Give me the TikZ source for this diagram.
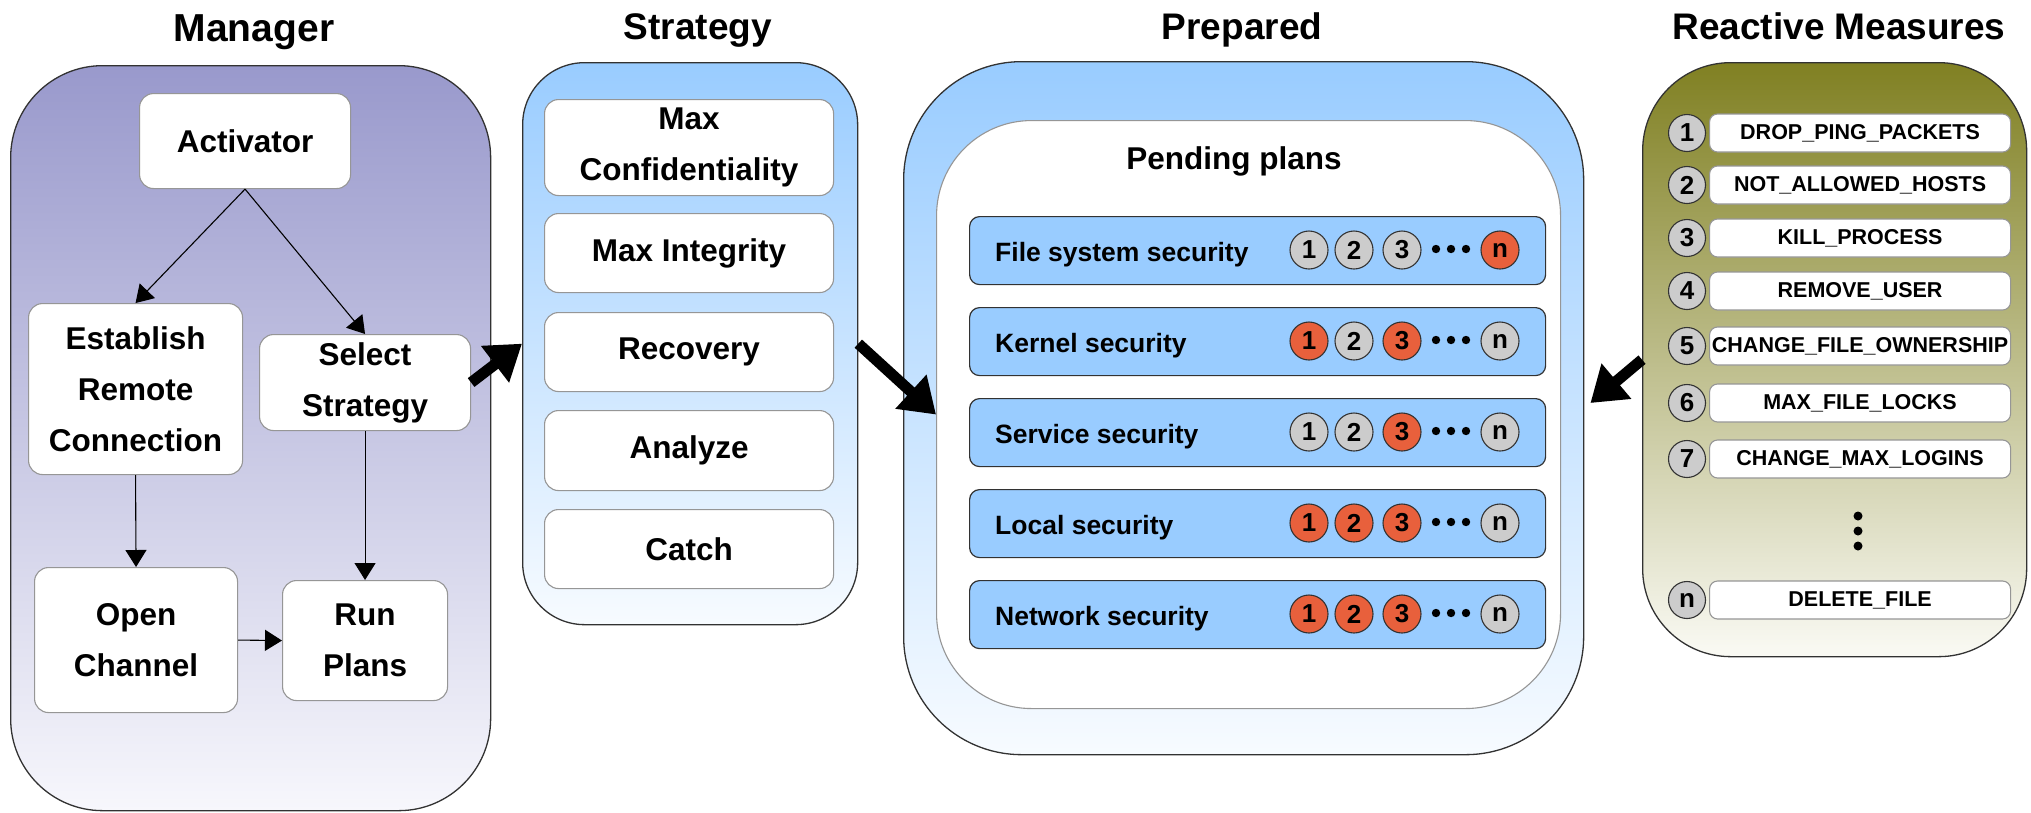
\documentclass[tikz,border=0pt]{standalone}
\usepackage{fontspec}
\setmainfont{Liberation Sans}
\usetikzlibrary{arrows.meta,calc}

\definecolor{lav}{RGB}{153,153,204}
\definecolor{lavlight}{RGB}{247,247,252}
\definecolor{sky}{RGB}{153,204,255}
\definecolor{skylight}{RGB}{247,251,255}
\definecolor{olive}{RGB}{128,128,34}
\definecolor{olivelight}{RGB}{250,250,244}
\definecolor{flag}{RGB}{232,96,60}
\definecolor{idle}{RGB}{204,204,204}
\definecolor{edge}{RGB}{50,50,50}
\definecolor{soft}{RGB}{150,150,150}

\tikzset{
  title/.style={anchor=base, font=\fontsize{37}{44}\selectfont\bfseries},
  panel/.style={draw=edge, line width=1.3pt, anchor=north west, inner sep=0pt},
  stepbox/.style={draw=soft, line width=1.1pt, fill=white, rounded corners=14pt,
    anchor=north west, inner sep=0pt, align=center,
    font=\fontsize{31.5}{51}\selectfont\bfseries},
  flow/.style={-{Triangle[length=17pt,width=21pt]}, line width=1.1pt, black},
  bigflow/.style={-{Triangle[length=34pt,width=44pt]}, line width=11pt, black},
  planrow/.style={draw=edge, line width=1.2pt, fill=sky, rounded corners=10pt,
    anchor=north west, inner sep=0pt, minimum width=576pt, minimum height=68pt},
  rowlabel/.style={anchor=base west, inner sep=0pt, font=\fontsize{26.5}{30}\selectfont\bfseries},
  token/.style={circle, draw=edge, line width=1.1pt, minimum size=38pt, inner sep=0pt,
    font=\fontsize{26}{26}\selectfont\bfseries},
  measure/.style={draw=soft, line width=1.1pt, fill=white, rounded corners=8pt,
    anchor=west, inner sep=0pt, minimum width=301pt, minimum height=38pt,
    font=\fontsize{21.5}{24}\selectfont\bfseries},
}

\begin{document}
\begin{tikzpicture}[x=1pt,y=-1pt]
\useasboundingbox (0,0) rectangle (2031,812);

% column headings
\node[title, font=\fontsize{39}{44}\selectfont\bfseries] (tman) at (254,41) {Manager};
\node[title] (tstr) at (698,39) {Strategy};
\node[title] (tpre) at (1242,39) {Prepared};
\node[title] (trea) at (1839,39) {Reactive Measures};

% ---------------- Manager ----------------
\node[panel, minimum width=480pt, minimum height=745pt, rounded corners=92pt,
      top color=lav, bottom color=lavlight] (man) at (10,65) {};

\node[stepbox, minimum width=211pt, minimum height=95pt]  (act) at (139,93)  {Activator};
\node[stepbox, minimum width=214pt, minimum height=171pt] (est) at (28,303)  {Establish\\Remote\\Connection};
\node[stepbox, minimum width=211pt, minimum height=96pt]  (sel) at (259,334) {Select\\Strategy};
\node[stepbox, minimum width=203pt, minimum height=145pt] (opn) at (34,567)  {Open\\Channel};
\node[stepbox, minimum width=165pt, minimum height=120pt] (run) at (282,580) {Run\\Plans};

\draw[flow] (act.south) -- (est.north);
\draw[flow] (act.south) -- (sel.north);
\draw[flow] (est.south) -- (opn.north);
\draw[flow] (sel.south) -- (run.north);
\draw[flow] (opn.east) -- (run.west);

% ---------------- Strategy ----------------
\node[panel, minimum width=335pt, minimum height=562pt, rounded corners=62pt,
      top color=sky, bottom color=skylight] (strat) at (522,62) {};

\node[stepbox, minimum width=289pt, minimum height=96pt] (s1) at (544,99)  {Max\\Confidentiality};
\node[stepbox, minimum width=289pt, minimum height=79pt] (s2) at (544,213) {Max Integrity};
\node[stepbox, minimum width=289pt, minimum height=79pt] (s3) at (544,312) {Recovery};
\node[stepbox, minimum width=289pt, minimum height=80pt] (s4) at (544,410) {Analyze};
\node[stepbox, minimum width=289pt, minimum height=79pt] (s5) at (544,509) {Catch};

% ---------------- Prepared ----------------
\node[panel, minimum width=680pt, minimum height=693pt, rounded corners=118pt,
      top color=sky, bottom color=skylight] (prep) at (903,61) {};
\node[panel, draw=soft, line width=1.1pt, fill=white, minimum width=624pt,
      minimum height=588pt, rounded corners=95pt] (pend) at (936,120) {};
\node[anchor=base, font=\fontsize{31.5}{34}\selectfont\bfseries] (ptitle) at (1234,169) {Pending plans};

\foreach \k/\top/\lab/\ca/\cb/\cc/\cn in {
    1/216/File system security/idle/idle/idle/flag,
    2/307/Kernel security/flag/idle/flag/idle,
    3/398/Service security/idle/idle/flag/idle,
    4/489/Local security/flag/flag/flag/idle,
    5/580/Network security/flag/flag/flag/idle}{
  \node[planrow] (row\k) at (969,\top) {};
  \node[rowlabel] (lab\k) at (995,\top+45) {\lab};
  \node[token, fill=\ca] (p\k a) at (1309,\top+34) {1};
  \node[token, fill=\cb] (p\k b) at (1354,\top+34) {2};
  \node[token, fill=\cc] (p\k c) at (1402,\top+34) {3};
  \node[token, fill=\cn] (p\k n) at (1500,\top+34) {n};
  \foreach \dx in {1436,1451,1466}
    \fill (\dx,\top+33) circle (4.2pt);
}

% ---------------- Reactive Measures ----------------
\node[panel, minimum width=384pt, minimum height=594pt, rounded corners=88pt,
      top color=olive, bottom color=olivelight] (react) at (1642,62) {};

\foreach \i/\cy/\txt in {
    1/133/DROP\_PING\_PACKETS,
    2/185/NOT\_ALLOWED\_HOSTS,
    3/238/KILL\_PROCESS,
    4/291/REMOVE\_USER,
    5/346/CHANGE\_FILE\_OWNERSHIP,
    6/403/MAX\_FILE\_LOCKS,
    7/459/CHANGE\_MAX\_LOGINS,
    n/600/DELETE\_FILE}{
  \node[token, fill=idle, minimum size=37pt] (m\i) at (1687,\cy) {\i};
  \node[measure] (a\i) at (1709,\cy) {\txt};
}
\foreach \dy in {516,531,546}
  \fill (1858,\dy) circle (4.5pt);

% ---------------- links between columns ----------------
\draw[bigflow] (sel.east) -- (strat.west);
\draw[bigflow] (strat.east) -- (pend.west);
\draw[bigflow, shorten >=8pt] (react.west) -- (prep.east);

\end{tikzpicture}
\end{document}
